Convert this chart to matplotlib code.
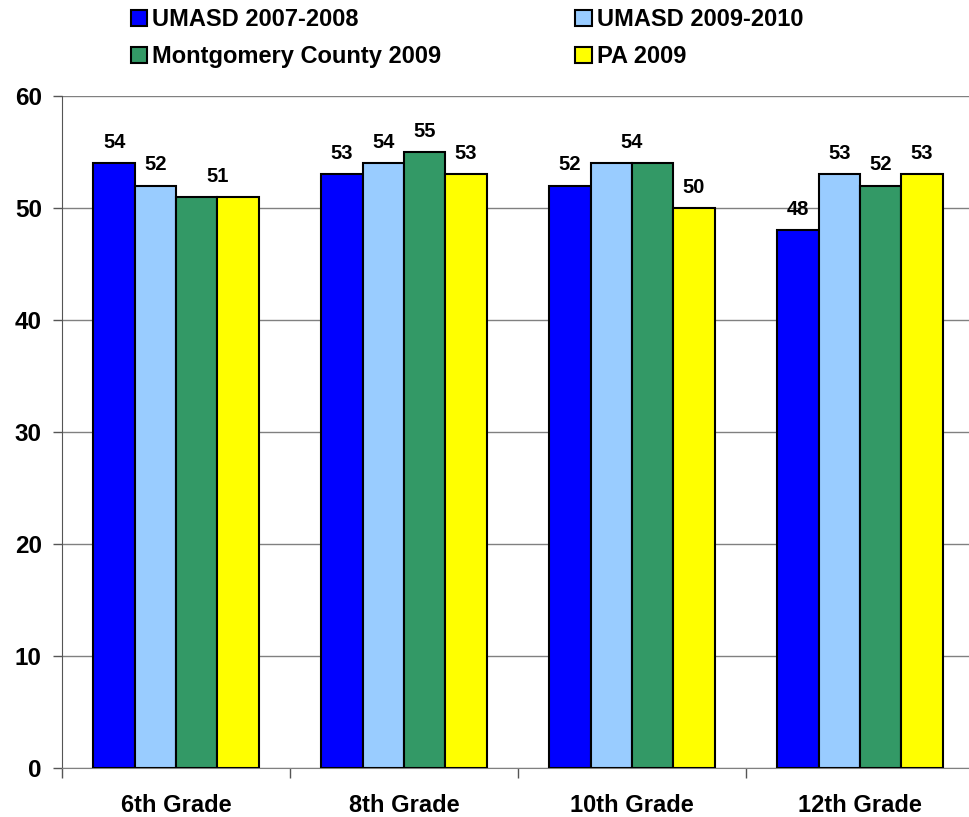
import matplotlib
matplotlib.use("Agg")
import matplotlib.pyplot as plt
from matplotlib.patches import Patch
import numpy as np

categories = ["6th Grade", "8th Grade", "10th Grade", "12th Grade"]
series_names = ["UMASD 2007-2008", "UMASD 2009-2010", "Montgomery County 2009", "PA 2009"]
umasd_0708 = [54, 53, 52, 48]
umasd_0910 = [52, 54, 54, 53]
montco_2009 = [51, 55, 54, 52]
pa_2009 = [51, 53, 50, 53]
colors = ["#0000FF", "#99CCFF", "#339966", "#FFFF00"]
yticks = [0, 10, 20, 30, 40, 50, 60]

plt.rcParams['font.family'] = ['Liberation Sans', 'DejaVu Sans']
plt.rcParams['font.weight'] = 'bold'

fig = plt.figure(figsize=(9.70, 8.17), dpi=100)
W, H = 970, 817
ax = fig.add_axes([62 / W, (817 - 768) / H, 912 / W, 672 / H])

series = [umasd_0708, umasd_0910, montco_2009, pa_2009]
x = np.arange(len(categories))
bw = 0.181
offsets = (np.arange(4) - 1.5) * bw

for s, (vals, col, name) in enumerate(zip(series, colors, series_names)):
    ax.bar(x + offsets[s], vals, width=bw, color=col, edgecolor="black",
           linewidth=1.5, label=name, zorder=3)

# value labels; adjacent equal values share one label
for g in range(len(categories)):
    vals = [series[s][g] for s in range(4)]
    s = 0
    while s < 4:
        e = s
        while e + 1 < 4 and vals[e + 1] == vals[s]:
            e += 1
        xc = x[g] + (offsets[s] + offsets[e]) / 2
        ax.annotate(str(vals[s]), (xc, vals[s]), xytext=(0, 8),
                    textcoords="offset points", ha="center", va="bottom",
                    fontsize=14.5, fontweight="bold")
        s = e + 1

ax.set_ylim(0, 60)
ax.set_xlim(-0.5, len(categories) - 0.5)
ax.set_yticks(yticks)
ax.set_yticklabels([str(t) for t in yticks], fontsize=17.5, fontweight="bold")
ax.yaxis.grid(True, color="#808080", linewidth=1.0, zorder=0)
ax.set_axisbelow(True)

ax.set_xticks(x)
ax.set_xticklabels(categories, fontsize=17, fontweight="bold")
ax.tick_params(axis="x", length=0, pad=19)
ax.set_xticks(np.arange(len(categories) + 1) - 0.5, minor=True)
ax.tick_params(axis="x", which="minor", length=7, color="#555555", width=1)
ax.tick_params(axis="y", length=6.5, color="#555555", width=1, pad=8)

for sp in ["top", "right"]:
    ax.spines[sp].set_visible(False)
ax.spines["left"].set_color("#555555")
ax.spines["bottom"].set_color("#808080")

handles = [Patch(facecolor=c, edgecolor="black", linewidth=1.5) for c in colors]
order = [0, 2, 1, 3]
fig.legend([handles[i] for i in order], [series_names[i] for i in order],
           ncol=2, loc="upper left", bbox_to_anchor=(114 / W, 1.010),
           frameon=False, prop={"weight": "bold", "size": 17},
           handlelength=0.68, handleheight=0.68, handletextpad=0.25,
           columnspacing=5.67, labelspacing=0.58, borderaxespad=0.3)

fig.savefig("out.png", dpi=100)
